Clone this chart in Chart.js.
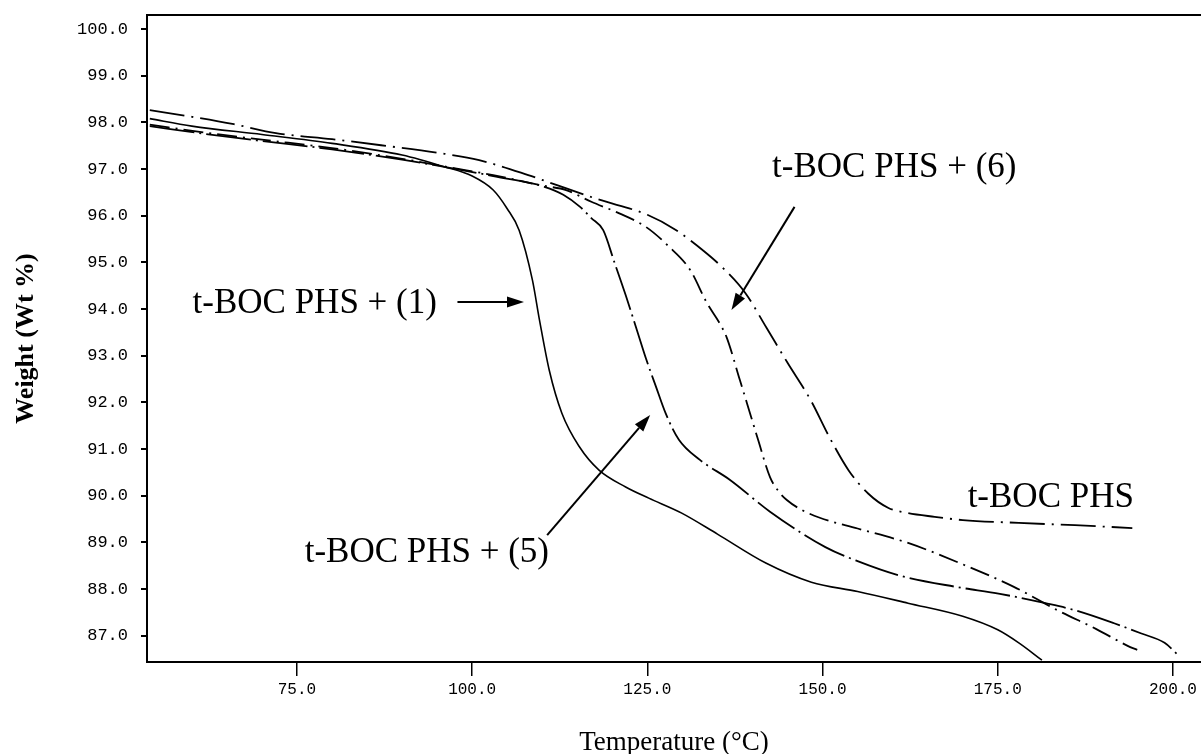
<!DOCTYPE html>
<html>
<head>
<meta charset="utf-8">
<title>TGA weight loss</title>
<script src="https://cdn.jsdelivr.net/npm/chart.js@4.4.0/dist/chart.umd.min.js"></script>
<style>
  html, body { margin: 0; padding: 0; background: #fff; }
</style>
</head>
<body>
<canvas id="tgaChart" width="1201" height="754"></canvas>
<script>
// --- Data ---
// Temperature (°C) / Weight (Wt %) for each sample

// t-BOC PHS + (1)  (solid)
const tempOne = [54, 60, 70, 80, 90, 96, 100, 103, 105, 106.7, 108.6, 109.6, 111, 112.8, 115.3, 118.1, 121.9, 125.2, 129.9, 135, 141.9, 148.4, 155, 162.2, 170, 175, 178, 181.3];
const wtOne   = [98.08, 97.92, 97.74, 97.55, 97.30, 97.05, 96.85, 96.55, 96.15, 95.69, 94.62, 93.77, 92.69, 91.77, 91.05, 90.55, 90.19, 89.95, 89.63, 89.18, 88.56, 88.15, 87.95, 87.70, 87.42, 87.13, 86.85, 86.48];

// t-BOC PHS + (5)  (long dash)
const tempFive = [54, 62, 70, 80, 90, 97, 103, 110.3, 113, 115.4, 117, 118.7, 120.3, 121.9, 123.4, 124.8, 126.2, 127.6, 129.5, 132.5, 136.8, 142.5, 150.4, 155, 160.8, 169, 175.3, 181.8, 186, 191.6, 195.5, 198.8, 200.8];
const wtFive   = [97.92, 97.75, 97.60, 97.42, 97.20, 97.02, 96.85, 96.62, 96.45, 96.19, 95.95, 95.69, 95.00, 94.30, 93.60, 92.94, 92.35, 91.77, 91.20, 90.77, 90.34, 89.66, 88.90, 88.60, 88.30, 88.05, 87.90, 87.70, 87.55, 87.27, 87.05, 86.85, 86.58];

// t-BOC PHS + (6)  (dash-dot)
const tempSix = [54, 62, 70, 80, 90, 97, 103, 110.3, 113.4, 117, 121, 124.8, 128, 131.1, 133.5, 135.3, 136.3, 138.2, 139.2, 140.8, 142.5, 143.7, 144.9, 147, 149.6, 155, 162.2, 170.2, 177.3, 183.5, 189, 193.9, 194.9];
const wtSix   = [97.95, 97.78, 97.63, 97.45, 97.22, 97.03, 96.87, 96.64, 96.55, 96.30, 96.05, 95.76, 95.35, 94.84, 94.13, 93.70, 93.40, 92.48, 91.99, 91.20, 90.40, 90.10, 89.91, 89.70, 89.53, 89.30, 88.99, 88.52, 88.05, 87.55, 87.15, 86.76, 86.70];

// t-BOC PHS  (dash-dot, longer dashes)
const tempBase = [54, 60, 66, 72, 80, 87, 95, 101, 108, 112, 118, 125, 129, 133, 136, 139, 142, 145, 148.3, 151, 153.7, 156.5, 159.4, 162.2, 166, 170, 178, 186, 194.2];
const wtBase   = [98.26, 98.12, 97.96, 97.77, 97.64, 97.51, 97.35, 97.19, 96.87, 96.66, 96.35, 96.02, 95.70, 95.25, 94.85, 94.34, 93.60, 92.85, 92.05, 91.25, 90.55, 90.05, 89.74, 89.63, 89.55, 89.48, 89.42, 89.37, 89.31];

// Axis ticks
const xTicks = [75, 100, 125, 150, 175, 200];
const yTicks = [87, 88, 89, 90, 91, 92, 93, 94, 95, 96, 97, 98, 99, 100];

// Annotations (in data units: temperature, weight)
const noteTexts = ['t-BOC PHS + (1)', 't-BOC PHS + (5)', 't-BOC PHS + (6)', 't-BOC PHS'];
const noteTemps = [60.1, 76.1, 142.8, 170.7];
const noteWts   = [93.92, 88.58, 96.83, 89.76];

const arrowFrom = [[97.9, 94.15], [110.7, 89.16], [146.0, 96.19]];
const arrowTo   = [[107.4, 94.15], [125.4, 91.73], [137.0, 93.98]];

const toPoints = (xs, ys) => xs.map((x, i) => ({ x: x, y: ys[i] }));

// --- Annotation plugin: labels and arrows ---
const notesPlugin = {
  id: 'notes',
  afterDatasetsDraw(chart) {
    const ctx = chart.ctx;
    const xs = chart.scales.x;
    const ys = chart.scales.y;
    ctx.save();
    ctx.fillStyle = '#000';
    ctx.strokeStyle = '#000';
    ctx.font = '35px "Liberation Serif", "Times New Roman", serif';
    ctx.textAlign = 'left';
    ctx.textBaseline = 'alphabetic';
    noteTexts.forEach((txt, i) => {
      ctx.fillText(txt, xs.getPixelForValue(noteTemps[i]), ys.getPixelForValue(noteWts[i]));
    });

    ctx.lineWidth = 2;
    arrowFrom.forEach((from, i) => {
      const x1 = xs.getPixelForValue(from[0]);
      const y1 = ys.getPixelForValue(from[1]);
      const x2 = xs.getPixelForValue(arrowTo[i][0]);
      const y2 = ys.getPixelForValue(arrowTo[i][1]);
      const ang = Math.atan2(y2 - y1, x2 - x1);
      const headLen = 17, headHalf = 5.5;
      const bx = x2 - headLen * Math.cos(ang);
      const by = y2 - headLen * Math.sin(ang);
      ctx.beginPath();
      ctx.moveTo(x1, y1);
      ctx.lineTo(bx, by);
      ctx.stroke();
      ctx.beginPath();
      ctx.moveTo(x2, y2);
      ctx.lineTo(bx + headHalf * Math.sin(ang), by - headHalf * Math.cos(ang));
      ctx.lineTo(bx - headHalf * Math.sin(ang), by + headHalf * Math.cos(ang));
      ctx.closePath();
      ctx.fill();
    });
    ctx.restore();
  }
};

const lineSet = (label, xs, ys, dash, width) => ({
  label: label,
  data: toPoints(xs, ys),
  borderColor: '#000',
  borderWidth: width,
  borderDash: dash,
  pointRadius: 0,
  fill: false,
  cubicInterpolationMode: 'monotone',
  tension: 0.4
});

const tickFont = size => ({ family: '"Liberation Mono", "DejaVu Sans Mono", monospace', size: size, lineHeight: 1 });

// fixed box sizes so the plot area lands where the original one is
const fixSize = (w, h) => s => {
  if (w !== null) s.width = w;
  if (h !== null) s.height = h;
  s.paddingTop = 0;
  s.paddingBottom = 0;
  s.paddingLeft = 0;
  s.paddingRight = 0;
};

new Chart(document.getElementById('tgaChart'), {
  type: 'line',
  data: {
    datasets: [
      lineSet('t-BOC PHS + (1)', tempOne, wtOne, [], 1.6),
      lineSet('t-BOC PHS + (5)', tempFive, wtFive, [45, 5, 2, 5], 1.8),
      lineSet('t-BOC PHS + (6)', tempSix, wtSix, [20, 6, 2, 6], 1.8),
      lineSet('t-BOC PHS', tempBase, wtBase, [35, 7, 2, 7], 1.8)
    ]
  },
  options: {
    responsive: false,
    animation: false,
    devicePixelRatio: 1,
    layout: { padding: 0 },
    plugins: {
      legend: { display: false },
      tooltip: { enabled: false }
    },
    scales: {
      x: {
        type: 'linear',
        position: 'bottom',
        min: 53.6,
        max: 204,
        afterBuildTicks: s => { s.ticks = xTicks.map(v => ({ value: v })); },
        afterFit: fixSize(null, 92),
        ticks: {
          callback: v => Number(v).toFixed(1),
          color: '#000',
          font: tickFont(16),
          padding: 6,
          maxRotation: 0,
          autoSkip: false
        },
        grid: { drawOnChartArea: false, drawTicks: true, tickLength: 14, color: '#000', lineWidth: 1.5 },
        border: { display: true, color: '#000', width: 2 },
        title: {
          display: true,
          text: 'Temperature (°C)',
          color: '#000',
          font: { family: '"Liberation Serif", "Times New Roman", serif', size: 27, lineHeight: '22px' },
          padding: { top: 0, bottom: 0 }
        }
      },
      xTop: {
        type: 'linear',
        position: 'top',
        min: 53.6,
        max: 204,
        afterFit: fixSize(null, 15),
        ticks: { display: false },
        grid: { display: false, drawTicks: false },
        border: { display: true, color: '#000', width: 2 }
      },
      y: {
        type: 'linear',
        position: 'left',
        min: 86.44,
        max: 100.3,
        afterBuildTicks: s => { s.ticks = yTicks.map(v => ({ value: v })); },
        afterFit: fixSize(147, null),
        ticks: {
          callback: v => Number(v).toFixed(1),
          color: '#000',
          font: tickFont(17),
          padding: 13,
          autoSkip: false
        },
        grid: { drawOnChartArea: false, drawTicks: true, tickLength: 6, color: '#000', lineWidth: 2 },
        border: { display: true, color: '#000', width: 2 },
        title: {
          display: true,
          text: 'Weight (Wt %)',
          color: '#000',
          font: { family: '"Liberation Serif", "Times New Roman", serif', size: 26, weight: 'bold', lineHeight: '26px' },
          padding: { top: 13, bottom: 0 }
        }
      }
    }
  },
  plugins: [notesPlugin]
});
</script>
</body>
</html>
